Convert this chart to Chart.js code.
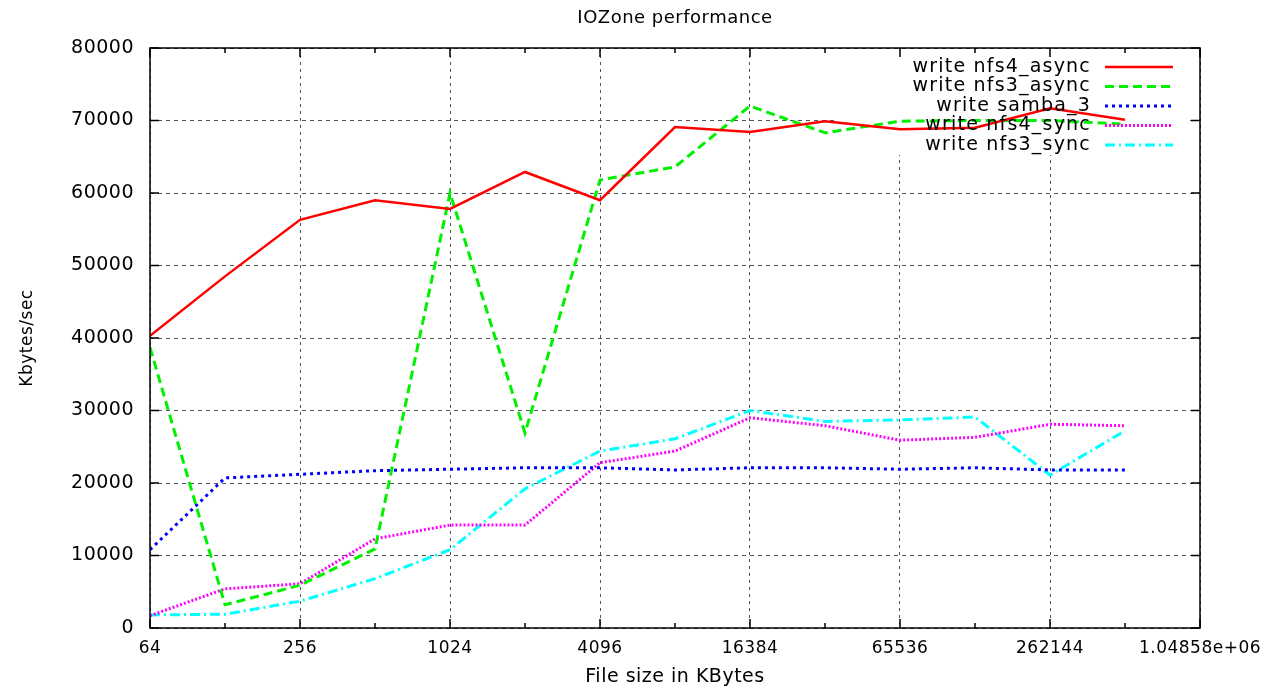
<!DOCTYPE html>
<html>
<head>
<meta charset="utf-8">
<title>IOZone performance</title>
<script src="https://cdn.jsdelivr.net/npm/chart.js@4.4.0/dist/chart.umd.min.js"></script>
<style>
  html, body { margin: 0; padding: 0; background: #fff; }
  #chartDiv { width: 1263px; height: 689px; }
</style>
</head>
<body>
<div id="chartDiv"><canvas id="myChart"></canvas></div>
<script>
// file sizes in KBytes (x), log2 axis
const fileSizes = [64, 128, 256, 512, 1024, 2048, 4096, 8192, 16384, 32768, 65536, 131072, 262144, 524288];
const xTicks = [64, 128, 256, 512, 1024, 2048, 4096, 8192, 16384, 32768, 65536, 131072, 262144, 524288, 1048576];
const xTickLabels = ["64", "", "256", "", "1024", "", "4096", "", "16384", "", "65536", "", "262144", "", "1.04858e+06"];

// Kbytes/sec
const nfs4Async = [40300, 48500, 56300, 59000, 57800, 62900, 59000, 69100, 68400, 69900, 68800, 69000, 71700, 70100];
const nfs3Async = [38700, 3200, 5900, 10900, 60000, 26900, 61800, 63600, 72000, 68300, 69900, 70000, 70000, 69500];
const samba3 = [10800, 20700, 21200, 21700, 21900, 22100, 22100, 21800, 22100, 22100, 21900, 22100, 21800, 21800];
const nfs4Sync = [1700, 5400, 6100, 12300, 14200, 14200, 22800, 24400, 29000, 27900, 25900, 26300, 28100, 27900];
const nfs3Sync = [1800, 1900, 3700, 6800, 10800, 19200, 24400, 26100, 30000, 28500, 28700, 29100, 21100, 27200];

const seriesNames = ["write nfs4_async", "write nfs3_async", "write samba_3", "write nfs4_sync", "write nfs3_sync"];
const seriesValues = [nfs4Async, nfs3Async, samba3, nfs4Sync, nfs3Sync];
const seriesColors = ["#ff0000", "#00f000", "#0000ff", "#ff00ff", "#00ffff"];
const seriesDash = [[], [9, 5], [3, 4], [2, 2], [10, 4, 2, 4]];

const FONT = "'DejaVu Sans', 'Liberation Sans', sans-serif";

// gnuplot text is a bit wider than ours, so spread letters a little
function spreadText(chart) {
    chart.ctx.letterSpacing = "0.5px";
}

// frame, inward ticks, key
const gnuplotBits = {
    id: "gnuplotBits",
    beforeUpdate(chart) { spreadText(chart); },
    beforeDraw(chart) { spreadText(chart); },
    beforeDatasetsDraw(chart) {
        const a = chart.chartArea;
        const ctx = chart.ctx;
        // key area hides the grid behind it
        ctx.save();
        ctx.fillStyle = "#fff";
        ctx.fillRect(a.right - 365, a.top + 1, 355, 106);
        ctx.restore();
    },
    afterDraw(chart) {
        const a = chart.chartArea;
        const ctx = chart.ctx;
        const xs = chart.scales.x;
        const ys = chart.scales.y;
        ctx.save();
        ctx.strokeStyle = "#000";
        ctx.lineWidth = 1.5;
        ctx.setLineDash([]);
        ctx.beginPath();
        xTicks.forEach((v, i) => {
            const px = xs.getPixelForValue(v);
            const len = xTickLabels[i] ? 9 : 5;
            ctx.moveTo(px, a.bottom); ctx.lineTo(px, a.bottom - len);
            ctx.moveTo(px, a.top); ctx.lineTo(px, a.top + len);
        });
        ys.ticks.forEach(t => {
            const py = ys.getPixelForValue(t.value);
            ctx.moveTo(a.left, py); ctx.lineTo(a.left + 9, py);
            ctx.moveTo(a.right, py); ctx.lineTo(a.right - 9, py);
        });
        ctx.stroke();
        ctx.strokeRect(a.left, a.top, a.right - a.left, a.bottom - a.top);

        // key
        ctx.font = "19px " + FONT;
        ctx.letterSpacing = "1.2px";
        ctx.textAlign = "right";
        ctx.textBaseline = "middle";
        chart.data.datasets.forEach((ds, i) => {
            const y = a.top + 19 + i * 19.5;
            ctx.fillStyle = "#000";
            ctx.fillText(ds.label, a.right - 109, y);
            ctx.strokeStyle = ds.borderColor;
            ctx.lineWidth = ds.borderWidth;
            ctx.setLineDash(ds.borderDash);
            ctx.beginPath();
            ctx.moveTo(a.right - 95, y);
            ctx.lineTo(a.right - 27, y);
            ctx.stroke();
        });
        ctx.restore();
    }
};

const datasets = seriesNames.map((name, i) => ({
    label: name,
    data: fileSizes.map((x, j) => ({ x: x, y: seriesValues[i][j] })),
    borderColor: seriesColors[i],
    backgroundColor: seriesColors[i],
    borderWidth: i === 0 ? 2.5 : 3,
    borderDash: seriesDash[i],
    pointRadius: 0,
    tension: 0,
    fill: false
}));

Chart.defaults.color = "#000";

new Chart(document.getElementById("myChart"), {
    type: "line",
    data: { datasets: datasets },
    plugins: [gnuplotBits],
    options: {
        responsive: true,
        maintainAspectRatio: false,
        animation: false,
        layout: { padding: { left: 0, right: 63, top: 0, bottom: 0 } },
        plugins: {
            legend: { display: false },
            tooltip: { enabled: false },
            title: {
                display: true,
                text: "IOZone performance",
                fullSize: false,
                font: { family: FONT, size: 18, weight: "normal" },
                padding: { top: 8, bottom: 18.4 }
            }
        },
        scales: {
            x: {
                type: "logarithmic",
                min: 64,
                max: 1048576,
                afterBuildTicks: scale => { scale.ticks = xTicks.map(v => ({ value: v })); },
                afterFit: scale => {
                    scale.height = 61;
                    // let the last label run off the edge like the original
                    scale.paddingLeft = 0;
                    scale.paddingRight = 0;
                },
                ticks: {
                    autoSkip: false,
                    maxRotation: 0,
                    padding: 10,
                    font: { family: FONT, size: 17 },
                    callback: (value, index) => xTickLabels[index]
                },
                grid: {
                    drawTicks: false,
                    lineWidth: 1,
                    color: c => xTickLabels[c.index] ? "#555" : "rgba(0,0,0,0)"
                },
                border: { display: false, dash: [3, 4] },
                title: {
                    display: true,
                    text: "File size in KBytes",
                    font: { family: FONT, size: 19 },
                    padding: { top: 0, bottom: 1 }
                }
            },
            y: {
                min: 0,
                max: 80000,
                afterFit: scale => { scale.width = 150; },
                ticks: {
                    stepSize: 10000,
                    padding: 16,
                    font: { family: FONT, size: 19 },
                    callback: v => String(v)
                },
                grid: { drawTicks: false, lineWidth: 1, color: "#555" },
                border: { display: false, dash: [4, 4] },
                title: {
                    display: true,
                    text: "Kbytes/sec",
                    font: { family: FONT, size: 17 },
                    padding: { top: 17, bottom: 0 }
                }
            }
        }
    }
});
</script>
</body>
</html>
